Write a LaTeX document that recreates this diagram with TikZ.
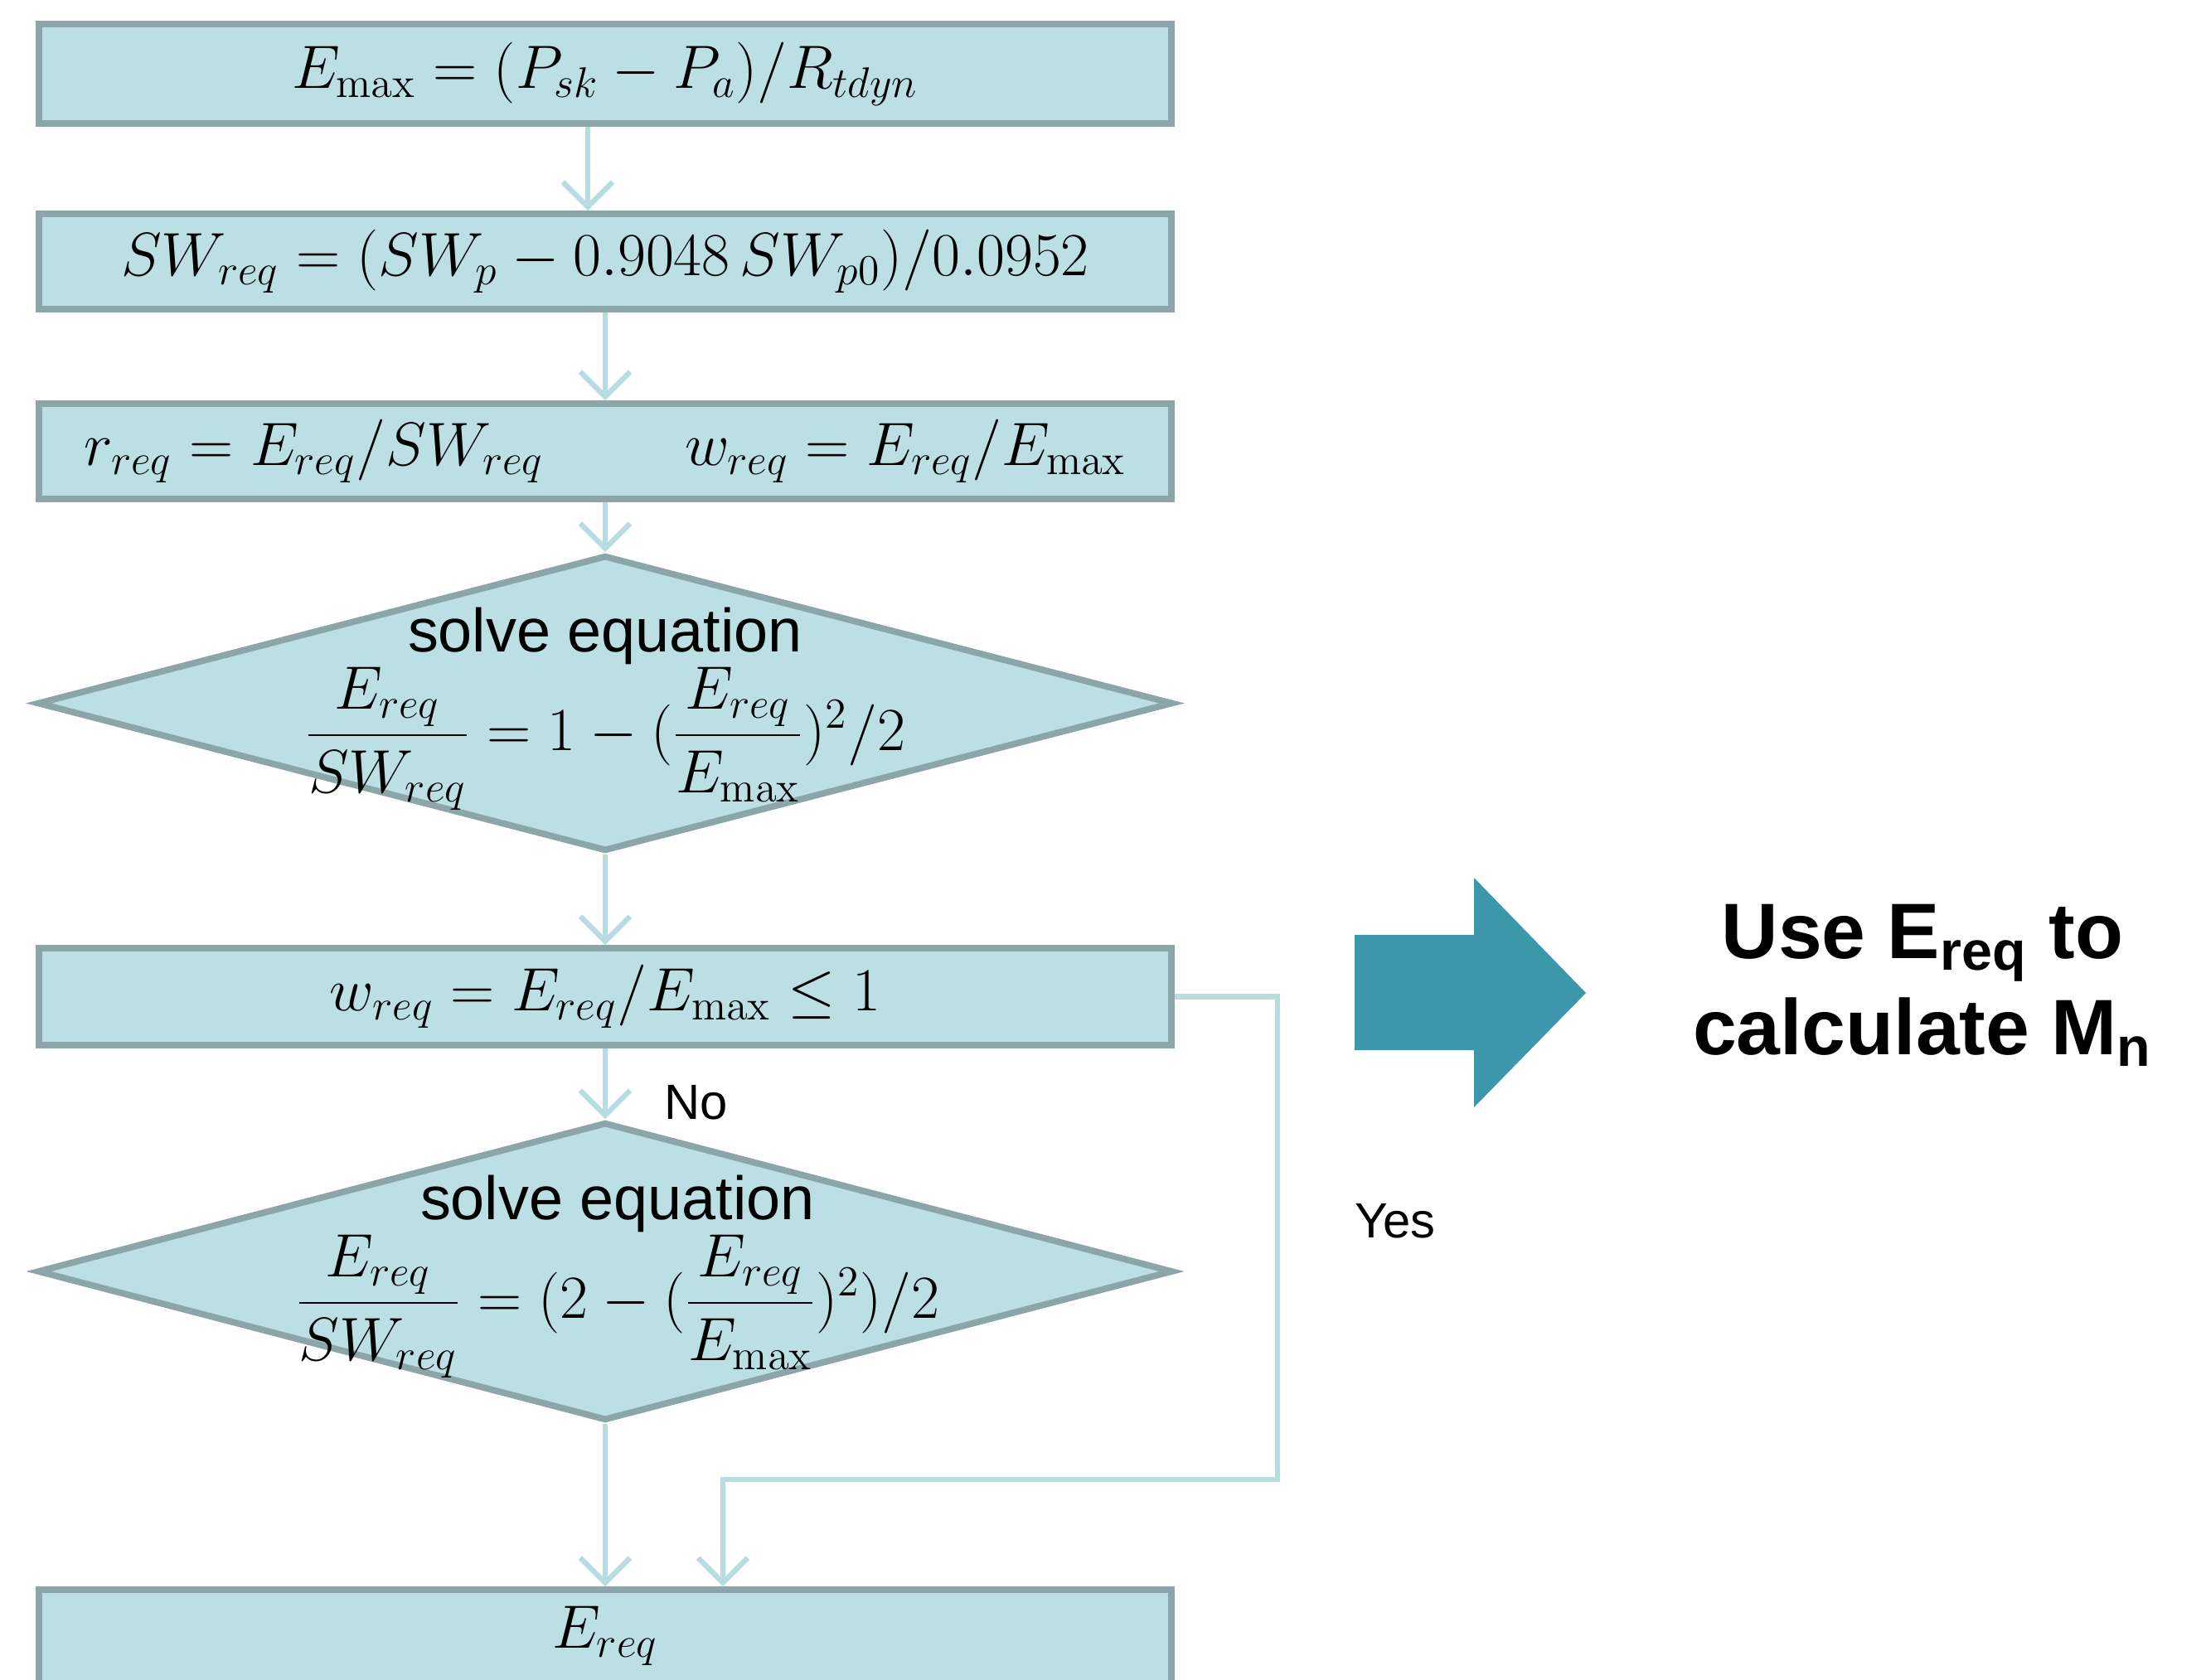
\RequirePackage{fix-cm}
\documentclass[tikz,border=0pt]{standalone}
\usepackage{amsmath}
\usepackage[no-math]{fontspec}
\setmainfont{Liberation Sans}
\usetikzlibrary{positioning,shapes.geometric,arrows.meta}
\definecolor{boxfill}{HTML}{BBDFE3}
\definecolor{boxline}{HTML}{8BA5A8}
\definecolor{flowline}{HTML}{B8DDE1}
\definecolor{bigteal}{HTML}{3D97AB}
\newcommand{\eqsize}{\fontsize{21}{25}\selectfont}
\newcommand{\solvesize}{\fontsize{21}{25}\selectfont}
\newcommand{\lblsize}{\fontsize{17}{20}\selectfont}

\begin{document}
\begin{tikzpicture}[
  procbox/.style={draw=boxline, fill=boxfill, line width=2.2pt, minimum width=13.66cm,
    minimum height=1.15cm, inner sep=0pt, font=\eqsize},
  decision/.style={diamond, draw=boxline, fill=boxfill, line width=2.2pt,
    minimum width=13.7cm, minimum height=3.57cm, inner sep=0pt},
  flow/.style={draw=flowline, line width=1.8pt, -{Straight Barb[length=3mm,width=6mm]}},
  lbl/.style={font=\lblsize, inner sep=0pt}
]
\useasboundingbox (0,0) rectangle (26.61,-20.26);

% flow chart
\node[procbox, minimum height=1.2cm] (emax) at (7.30,-0.89) {$E_{\max}=(P_{sk}-P_{a})/R_{tdyn}$};
\node[procbox] (swreq) at (7.30,-3.155) {$SW_{req}=(SW_{p}-0.9048\,SW_{p0})/0.0952$};
\node[procbox] (ratio) at (7.30,-5.445) {$r_{req}=E_{req}/SW_{req}$\hspace{1.7cm}$w_{req}=E_{req}/E_{\max}$};
\node[decision] (solveA) at (7.30,-8.485) {};
\node[align=center, font=\solvesize] (solveAtxt) at (7.30,-8.55)
  {solve equation\\ $\dfrac{E_{req}}{SW_{req}}=1-(\dfrac{E_{req}}{E_{\max}})^{2}/2$};
\node[procbox, minimum height=1.17cm] (wcheck) at (7.30,-12.025) {$w_{req}=E_{req}/E_{\max}\le 1$};
\node[decision, minimum height=3.6cm] (solveB) at (7.30,-15.34) {};
\node[align=center, font=\solvesize] (solveBtxt) at (7.45,-15.40)
  {solve equation\\ $\dfrac{E_{req}}{SW_{req}}=(2-(\dfrac{E_{req}}{E_{\max}})^{2})/2$};
\node[procbox, minimum height=1.3cm, text depth=0.4cm, anchor=north] (ereq) at (7.30,-19.14) {$E_{req}$};

\draw[flow] ([xshift=-2.1mm]emax.south) -- ([xshift=-2.1mm]swreq.north);
\draw[flow] (swreq) -- (ratio);
\draw[flow] (ratio) -- (solveA);
\draw[flow] (solveA) -- (wcheck);
\draw[flow] (wcheck) -- node[lbl, pos=0.77, right=0.68cm] (no) {No} (solveB);
\draw[flow] (solveB) -- (ereq);

% yes branch
\coordinate (yesturn) at (15.41,-17.85);
\draw[flow] (wcheck.east) -| (yesturn) -| ([xshift=1.42cm]ereq.north);
\node[lbl] (yes) at (16.83,-14.73) {Yes};

% big arrow and note
\fill[bigteal] (16.34,-11.28) -- (17.78,-11.28) -- (17.78,-10.59) -- (19.13,-11.98)
  -- (17.78,-13.36) -- (17.78,-12.67) -- (16.34,-12.67) -- cycle;
\node[font=\bfseries\fontsize{27}{33}\selectfont, align=center] (usenote) at (23.19,-11.89)
  {Use E\textsubscript{req} to\\calculate M\textsubscript{n}};
\end{tikzpicture}
\end{document}
